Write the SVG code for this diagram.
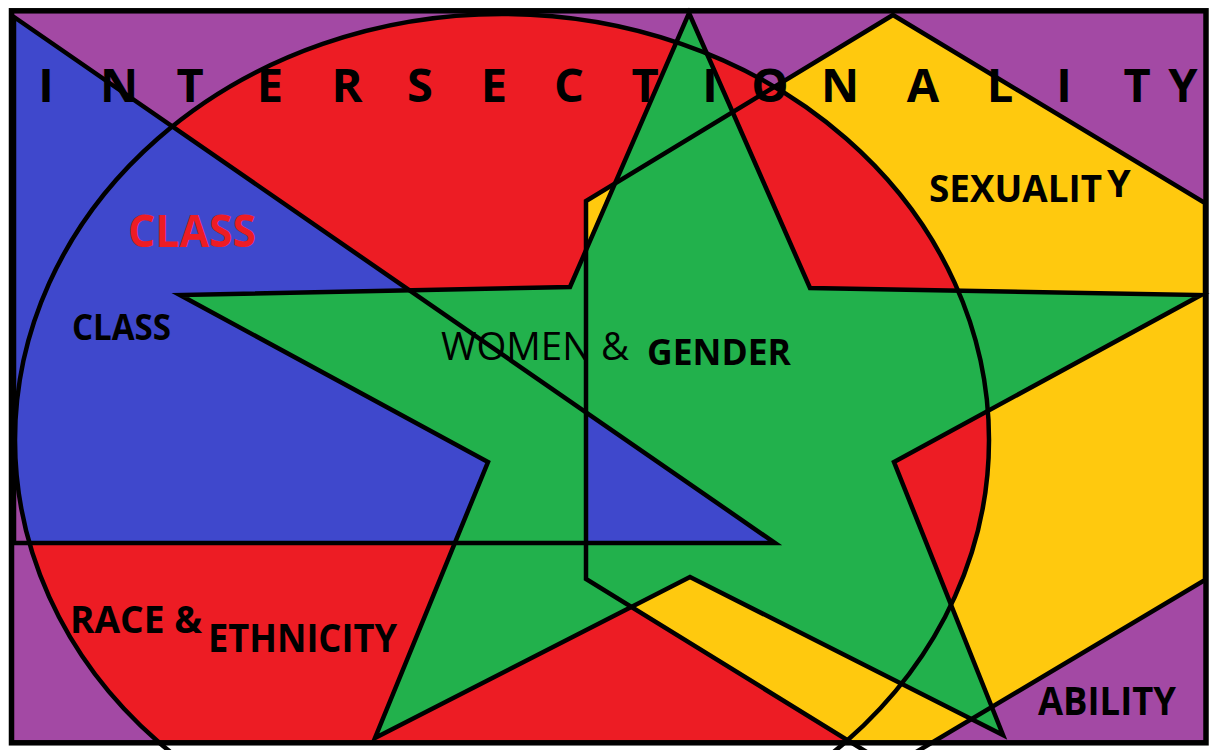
<svg xmlns="http://www.w3.org/2000/svg" width="1216" height="750" viewBox="0 0 1216 750">
<style>
.ln{fill:none;stroke:#000;stroke-width:4.5;stroke-linejoin:miter;stroke-miterlimit:20}
.t{font-family:"Open Sans","Liberation Sans",sans-serif;fill:#000}
.b{font-weight:700}
.pu{fill:#A349A4}.rd{fill:#ED1C24}.ye{fill:#FFC90E}.bl{fill:#3F48CC}.gr{fill:#22B14C}
</style>
<defs>
<clipPath id="frame"><rect x="11" y="11" width="1195" height="732"/></clipPath>
<clipPath id="hexSide"><rect x="586" y="0" width="700" height="750"/></clipPath>
</defs>
<rect width="1216" height="750" fill="#fff"/>
<g id="fills" clip-path="url(#frame)">
  <rect class="pu" x="0" y="0" width="1216" height="750"/>
  <polygon class="ye" points="893,15 1205,203 1205,580 891,767 586,579 586,201"/>
  <ellipse class="rd" cx="502" cy="440" rx="487" ry="426"/>
  <polygon class="ye" points="586,201 620,181 586,290"/>
  <polygon class="ye" points="586,579 690,577 972,720 891,767"/>
  <polygon class="bl" points="14,17 775,543 14,543"/>
  <path class="pu" d="M8,470 L16,470 A487,426 0 0 0 29.5,543 L8,543 Z"/>
  <polygon class="gr" points="689,13 810,288 1201,295 894,462 1003,735 690,577 375,738 488,462 180,295 570,287"/>
  <polygon class="bl" clip-path="url(#hexSide)" points="14,17 775,543 14,543"/>
</g>
<g id="outlines">
  <ellipse id="race-circle" class="ln" cx="502" cy="440" rx="487" ry="426"/>
  <polygon id="sexuality-hexagon" class="ln" points="893,15 1205,203 1205,580 891,767 586,579 586,201"/>
  <polygon id="class-triangle" class="ln" points="14,17 775,543 14,543"/>
  <polygon id="gender-star" class="ln" points="689,13 810,288 1201,295 894,462 1003,735 690,577 375,738 488,462 180,295 570,287"/>
</g>
<rect id="border" x="11.5" y="10.8" width="1194.5" height="732" fill="none" stroke="#000" stroke-width="5.5"/>
<g id="labels">
  <text id="title" class="t b" font-size="47" text-anchor="middle" y="102" x="46 82 119 154 190 230 270 308 347 383 420 457 494 531 569 607 645 677 710 740 770 805 840 881 923 961 1000 1032 1064 1100 1137 1160 1183">I N T E R S E C T I O N A L I T Y</text>
  <text id="class-red" class="t b" font-size="45" x="128" y="247" style="fill:#ED1C24" textLength="128" lengthAdjust="spacingAndGlyphs">CLASS</text>
  <text id="class" class="t b" font-size="35" x="72" y="340" textLength="99" lengthAdjust="spacingAndGlyphs">CLASS</text>
  <text id="women" class="t" font-size="39" x="441" y="360" textLength="188" lengthAdjust="spacingAndGlyphs">WOMEN &amp;</text>
  <text id="gender" class="t b" font-size="36" x="647" y="365" textLength="144" lengthAdjust="spacingAndGlyphs">GENDER</text>
  <text id="sexuality" class="t b" font-size="38"><tspan x="929" y="202" textLength="173" lengthAdjust="spacingAndGlyphs">SEXUALIT</tspan><tspan x="1107" y="197">Y</tspan></text>
  <text id="race" class="t b" font-size="37" x="70" y="633" textLength="132" lengthAdjust="spacingAndGlyphs">RACE &amp;</text>
  <text id="ethnicity" class="t b" font-size="39" x="208" y="652" textLength="189" lengthAdjust="spacingAndGlyphs">ETHNICITY</text>
  <text id="ability" class="t b" font-size="39" x="1038" y="715" textLength="138" lengthAdjust="spacingAndGlyphs">ABILITY</text>
</g>
</svg>
